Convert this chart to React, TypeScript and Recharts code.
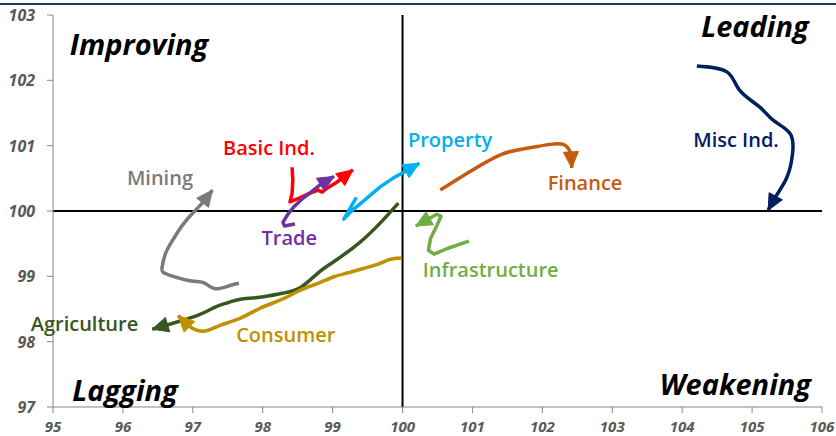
import React from 'react';
import { ComposedChart, Line, Scatter, XAxis, YAxis, ReferenceLine } from 'recharts';

const xTicks = [95, 96, 97, 98, 99, 100, 101, 102, 103, 104, 105, 106];
const yTicks = [97, 98, 99, 100, 101, 102, 103];

const mining = [
  { x: 97.66, y: 98.895 }, { x: 97.53, y: 98.86 }, { x: 97.32, y: 98.81 }, { x: 97.18, y: 98.89 },
  { x: 97.06, y: 98.92 }, { x: 96.92, y: 98.94 }, { x: 96.72, y: 99.0 }, { x: 96.58, y: 99.06 },
  { x: 96.56, y: 99.14 }, { x: 96.61, y: 99.35 }, { x: 96.71, y: 99.55 }, { x: 96.85, y: 99.78 },
  { x: 97.01, y: 99.98 }, { x: 97.15, y: 100.14 }, { x: 97.28, y: 100.32 },
];
const basicInd = [
  { x: 98.42, y: 100.67 }, { x: 98.43, y: 100.47 }, { x: 98.42, y: 100.27 }, { x: 98.39, y: 100.14 },
  { x: 98.53, y: 100.2 }, { x: 98.67, y: 100.27 }, { x: 98.79, y: 100.32 }, { x: 98.85, y: 100.29 },
  { x: 98.92, y: 100.35 }, { x: 99.06, y: 100.44 }, { x: 99.29, y: 100.63 },
];
const trade = [
  { x: 98.46, y: 99.8 }, { x: 98.31, y: 99.77 }, { x: 98.29, y: 99.83 }, { x: 98.36, y: 99.95 },
  { x: 98.45, y: 100.07 }, { x: 98.56, y: 100.18 }, { x: 98.69, y: 100.29 }, { x: 98.82, y: 100.4 },
  { x: 99.02, y: 100.53 },
];
const property = [
  { x: 99.34, y: 100.21 }, { x: 99.16, y: 99.875 }, { x: 99.28, y: 100.01 }, { x: 99.44, y: 100.15 },
  { x: 99.68, y: 100.37 }, { x: 99.86, y: 100.5 }, { x: 100.01, y: 100.59 }, { x: 100.24, y: 100.73 },
];
const finance = [
  { x: 100.54, y: 100.32 }, { x: 100.93, y: 100.58 }, { x: 101.4, y: 100.86 }, { x: 101.78, y: 100.96 },
  { x: 102.11, y: 101.02 }, { x: 102.3, y: 101.02 }, { x: 102.37, y: 100.96 }, { x: 102.41, y: 100.86 },
  { x: 102.42, y: 100.66 },
];
const miscInd = [
  { x: 104.21, y: 102.22 }, { x: 104.64, y: 102.13 }, { x: 104.82, y: 101.85 }, { x: 105.11, y: 101.59 },
  { x: 105.3, y: 101.39 }, { x: 105.54, y: 101.19 }, { x: 105.58, y: 100.89 }, { x: 105.5, y: 100.52 },
  { x: 105.33, y: 100.21 }, { x: 105.23, y: 100.01 },
];
const infrastructure = [
  { x: 100.95, y: 99.54 }, { x: 100.65, y: 99.43 }, { x: 100.45, y: 99.34 }, { x: 100.37, y: 99.4 },
  { x: 100.4, y: 99.58 }, { x: 100.48, y: 99.75 }, { x: 100.55, y: 99.92 }, { x: 100.49, y: 99.95 },
  { x: 100.19, y: 99.77 },
];
const agriculture = [
  { x: 99.94, y: 100.12 }, { x: 99.72, y: 99.86 }, { x: 99.39, y: 99.52 }, { x: 99.01, y: 99.22 },
  { x: 98.79, y: 99.05 }, { x: 98.54, y: 98.83 }, { x: 98.28, y: 98.74 }, { x: 97.96, y: 98.68 },
  { x: 97.68, y: 98.65 }, { x: 97.51, y: 98.6 }, { x: 97.32, y: 98.53 }, { x: 97.06, y: 98.4 },
  { x: 96.42, y: 98.19 },
];
const consumer = [
  { x: 99.98, y: 99.28 }, { x: 99.82, y: 99.26 }, { x: 99.68, y: 99.2 }, { x: 99.44, y: 99.12 },
  { x: 99.21, y: 99.05 }, { x: 99.01, y: 98.99 }, { x: 98.78, y: 98.89 }, { x: 98.54, y: 98.79 },
  { x: 98.3, y: 98.66 }, { x: 97.96, y: 98.51 }, { x: 97.68, y: 98.36 }, { x: 97.39, y: 98.25 },
  { x: 97.21, y: 98.17 }, { x: 97.07, y: 98.17 }, { x: 96.94, y: 98.24 }, { x: 96.79, y: 98.4 },
];

const seriesNames = ['Mining', 'Basic Ind.', 'Trade', 'Property', 'Finance', 'Misc Ind.', 'Infrastructure', 'Agriculture', 'Consumer'];
const seriesData = [mining, basicInd, trade, property, finance, miscInd, infrastructure, agriculture, consumer];

const seriesLabels = [
  { name: 'Mining', x: 96.53, y: 100.4 },
  { name: 'Basic Ind.', x: 98.09, y: 100.86 },
  { name: 'Trade', x: 98.38, y: 99.48 },
  { name: 'Property', x: 100.68, y: 100.98 },
  { name: 'Finance', x: 102.61, y: 100.32 },
  { name: 'Misc Ind.', x: 104.77, y: 100.98 },
  { name: 'Infrastructure', x: 101.26, y: 98.99 },
  { name: 'Agriculture', x: 95.45, y: 98.17 },
  { name: 'Consumer', x: 98.33, y: 97.99 },
];
const quadrantLabels = [
  { name: 'Improving', x: 96.23, y: 102.39 },
  { name: 'Leading', x: 105.04, y: 102.66 },
  { name: 'Lagging', x: 96.03, y: 97.09 },
  { name: 'Weakening', x: 104.76, y: 97.18 },
];

const colors: Record<string, string> = {
  'Mining': '#7a7a7a',
  'Basic Ind.': '#ff0000',
  'Trade': '#7030a0',
  'Property': '#00b0f0',
  'Finance': '#c55a11',
  'Misc Ind.': '#002060',
  'Infrastructure': '#70ad47',
  'Agriculture': '#375623',
  'Consumer': '#bf9000',
};
const smoothSeries = ['Finance', 'Agriculture', 'Consumer', 'Misc Ind.', 'Mining'];

const FONT = '"Open Sans", "DejaVu Sans", sans-serif';

function makeArrow(color: string, n: number) {
  let prev: { x: number; y: number } | null = null;
  return (props: any) => {
    const { cx, cy, index, points } = props;
    const key = `d-${index}`;
    if (index === n - 2) prev = { x: cx, y: cy };
    if (index !== n - 1) return <g key={key} />;
    const p = points && points[index - 1] ? { x: points[index - 1].x, y: points[index - 1].y } : prev;
    if (!p) return <g key={key} />;
    let dx = cx - p.x;
    let dy = cy - p.y;
    const len = Math.sqrt(dx * dx + dy * dy) || 1;
    dx /= len;
    dy /= len;
    const L = 16;
    const W = 7.5;
    const bx = cx - dx * L;
    const by = cy - dy * L;
    const pts = `${cx},${cy} ${bx - dy * W},${by + dx * W} ${bx + dy * W},${by - dx * W}`;
    return <polygon key={key} points={pts} fill={color} stroke={color} strokeWidth={1} strokeLinejoin="miter" />;
  };
}

const SeriesLabel = (props: any) => {
  const { cx, cy, payload } = props;
  return (
    <text x={cx} y={cy} textAnchor="middle" fontFamily={FONT} fontWeight={600} fontSize={20} fill={colors[payload.name]}>
      {payload.name}
    </text>
  );
};
const QuadrantLabel = (props: any) => {
  const { cx, cy, payload } = props;
  return (
    <text x={cx} y={cy} textAnchor="middle" fontFamily={FONT} fontWeight={700} fontStyle="italic" fontSize={29} fill="#000">
      {payload.name}
    </text>
  );
};

const XTick = (props: any) => {
  const { x, y, payload } = props;
  return (
    <text x={x} y={y + 13} textAnchor="middle" fontFamily={FONT} fontWeight={700} fontStyle="italic" fontSize={15} fill="#595959">
      {payload.value}
    </text>
  );
};
const YTick = (props: any) => {
  const { x, y, payload } = props;
  return (
    <text x={x} y={y + 6} textAnchor="end" fontFamily={FONT} fontWeight={700} fontStyle="italic" fontSize={16} fill="#595959">
      {payload.value}
    </text>
  );
};

export default function App() {
  return (
    <div style={{ position: 'absolute', left: 0, top: 0, width: 836, height: 436, background: '#fff' }}>
      <div style={{ position: 'absolute', left: 0, top: 3, width: 836, height: 1.5, background: '#1f3b63' }} />
      <ComposedChart width={836} height={436} margin={{ top: 15, right: 14, bottom: 0, left: 0 }}>
        <XAxis
          type="number"
          dataKey="x"
          domain={[95, 106]}
          ticks={xTicks}
          interval={0}
          height={29}
          tickSize={6}
          tickMargin={6}
          tick={<XTick />}
          axisLine={{ stroke: '#868686' }}
          tickLine={{ stroke: '#868686' }}
        />
        <YAxis
          type="number"
          dataKey="y"
          domain={[97, 103]}
          ticks={yTicks}
          interval={0}
          width={53}
          tickSize={6}
          tickMargin={12}
          tick={<YTick />}
          axisLine={{ stroke: '#868686' }}
          tickLine={{ stroke: '#868686' }}
        />
        <ReferenceLine y={100} stroke="#000" strokeWidth={2} />
        <ReferenceLine x={100} stroke="#000" strokeWidth={2} />
        {seriesNames.map((name, i) => (
          <Line
            key={name}
            data={seriesData[i]}
            dataKey="y"
            name={name}
            type={smoothSeries.includes(name) ? 'natural' : 'linear'}
            stroke={colors[name]}
            strokeWidth={3.5}
            strokeLinejoin="round"
            dot={makeArrow(colors[name], seriesData[i].length)}
            activeDot={false}
            isAnimationActive={false}
            legendType="none"
          />
        ))}
        <Scatter data={seriesLabels} dataKey="y" shape={SeriesLabel} isAnimationActive={false} legendType="none" />
        <Scatter data={quadrantLabels} dataKey="y" shape={QuadrantLabel} isAnimationActive={false} legendType="none" />
      </ComposedChart>
    </div>
  );
}
